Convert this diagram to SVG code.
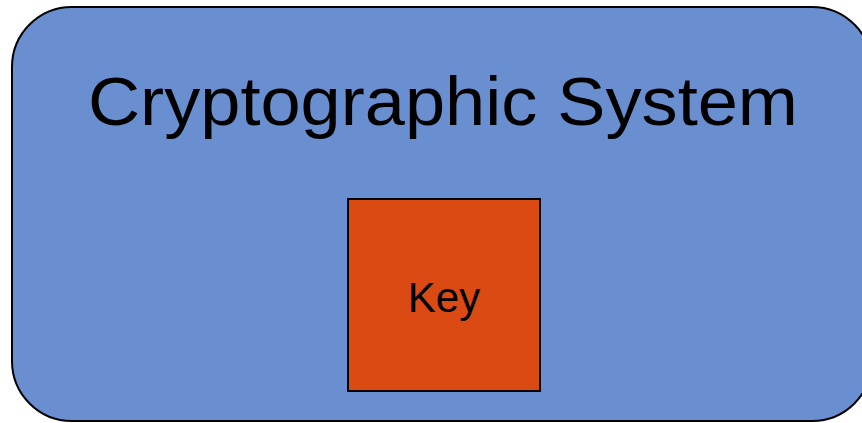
<svg xmlns="http://www.w3.org/2000/svg" width="862" height="423" viewBox="0 0 862 423">
  <style>
    .system { fill: #6A8FD0; stroke: #000; stroke-width: 2; }
    .key { fill: #DB4A13; stroke: #000; stroke-width: 2; }
    .label { font-family: "Liberation Sans", Arial, sans-serif; fill: #000; text-anchor: middle; }
  </style>
  <rect width="862" height="423" fill="#fff"/>
  <g id="cryptographic-system">
    <rect class="system" x="12" y="7" width="860" height="414" rx="60" ry="60"/>
    <text class="label" x="443" y="125" font-size="68" textLength="710" lengthAdjust="spacingAndGlyphs">Cryptographic System</text>
  </g>
  <g id="key">
    <rect class="key" x="348" y="199" width="192" height="192"/>
    <text class="label" x="444" y="312" font-size="42">Key</text>
  </g>
  <g id="connectors"></g>
</svg>
